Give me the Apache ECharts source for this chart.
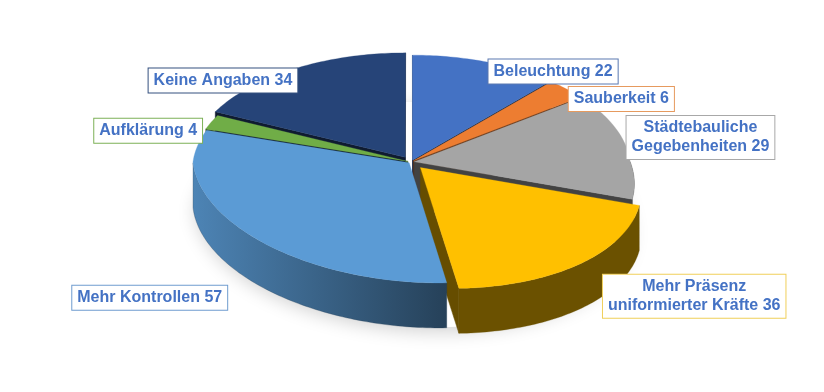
<!DOCTYPE html>
<html><head><meta charset="utf-8">
<script src="https://cdn.jsdelivr.net/npm/echarts@6/dist/echarts.min.js"></script>
<style>html,body{margin:0;padding:0;background:#fff}#c{width:824px;height:392px}</style>
</head><body><div id="c"></div>
<script>
// ---- data ----
const categories = ['Beleuchtung', 'Sauberkeit', 'Städtebauliche\nGegebenheiten', 'Mehr Präsenz\nuniformierter Kräfte', 'Mehr Kontrollen', 'Aufklärung', 'Keine Angaben'];
const values = [22, 6, 29, 36, 57, 4, 34];

// ---- styles ----
const topColors = ['#4472C4', '#ED7D31', '#A5A5A5', '#FFC000', '#5B9BD5', '#70AD47', '#264478'];
const borderColors = ['#5a78b0', '#e69a5e', '#a8a8a8', '#f0cf5a', '#6f9ccf', '#7db157', '#34507f'];
const explode = [0.02, 0.015, 0.015, 0.062, 0.012, 0.015, 0.05];
const labelOffsets = [[69, 8], [57, 9], [78, -8], [124, 39], [-100, 65], [-66, 8], [-78, 8]];

const CX = 411, CY = 162, RX = 216, K = 112, PERSP = 15, SHEAR = 0.25, DEPTH = 45;

function shade(hex, f) {
  const n = parseInt(hex.slice(1), 16);
  const r = Math.round(((n >> 16) & 255) * f), g = Math.round(((n >> 8) & 255) * f), b = Math.round((n & 255) * f);
  return 'rgb(' + r + ',' + g + ',' + b + ')';
}
function proj(u, w) {
  const s = 1 / (1 + w / PERSP);
  let x = CX + RX * u * s;
  if (w < 0) x += SHEAR * K * (-w) * s;
  return [x, CY - K * w * s];
}
function wallBright(phi) {
  const d = phi * 180 / Math.PI;
  if (d <= 180) return 0.42;
  return 0.42 + Math.min(1, (d - 180) / 90) * 0.43;
}

function renderItem(params, api) {
  const i = params.dataIndex;
  const total = values.reduce((a, b) => a + b, 0);
  let before = 0;
  for (let j = 0; j < i; j++) before += values[j];
  const v = api.value(0);
  const a0 = before / total * 2 * Math.PI;
  const a1 = (before + v) / total * 2 * Math.PI;
  const am = (a0 + a1) / 2;
  const ex = explode[i] * Math.sin(am), ey = explode[i] * Math.cos(am);
  const P = (phi, f) => proj(f * Math.sin(phi) + ex, f * Math.cos(phi) + ey);
  const arc = (b0, b1) => {
    const n = Math.max(2, Math.ceil((b1 - b0) / (Math.PI / 180)));
    const pts = [];
    for (let t = 0; t <= n; t++) pts.push(P(b0 + (b1 - b0) * t / n, 1));
    return pts;
  };
  const down = p => [p[0], p[1] + DEPTH];
  const children = [];
  const col = topColors[i];

  if (i === 0) {
    const pts = [];
    for (let t = 0; t <= 360; t += 2) {
      const ph = t * Math.PI / 180;
      pts.push(down(proj(Math.sin(ph), Math.cos(ph))));
    }
    children.push({ type: 'polygon', z2: 0, shape: { points: pts },
      style: { fill: '#ffffff', shadowBlur: 18, shadowColor: 'rgba(0,0,0,0.18)', shadowOffsetY: 5 } });
  }

  const A = P(0, 0);
  // radial faces
  const faces = [[a0, a0 + (a1 - a0) / 2], [a1, a1 - (a1 - a0) / 2]];
  faces.forEach(([edge, bodyAng]) => {
    const E = P(edge, 1);
    const B = P(bodyAng, 0.5);
    const dx = E[0] - A[0], dy = E[1] - A[1];
    const c1 = dx * (B[1] - A[1]) - dy * (B[0] - A[0]);
    const c2 = dx;
    if (c1 * c2 < 0) {
      children.push({ type: 'polygon', z2: 5, shape: { points: [A, E, down(E), down(A)] },
        style: { fill: shade(col, 0.4), stroke: shade(col, 0.4), lineWidth: 0.5 } });
    }
  });

  // outer wall
  const lo = Math.max(a0, Math.PI / 2), hi = Math.min(a1, 3 * Math.PI / 2);
  if (hi > lo) {
    const topPts = arc(lo, hi);
    const bot = topPts.map(down).reverse();
    const bl = wallBright(hi), br = wallBright(lo);
    children.push({ type: 'polygon', z2: 10 + Math.round((1 - Math.cos((lo + hi) / 2)) * 3), shape: { points: topPts.concat(bot) },
      style: { fill: new echarts.graphic.LinearGradient(0, 0, 1, 0, [
        { offset: 0, color: shade(col, bl) }, { offset: 1, color: shade(col, br) }]),
        stroke: shade(col, br), lineWidth: 0.3 } });
  }

  // top face
  children.push({ type: 'polygon', z2: 20, shape: { points: [A].concat(arc(a0, a1)) },
    style: { fill: col, stroke: col, lineWidth: 0.3 } });

  // label
  const anc = proj(Math.sin(am), Math.cos(am));
  const off = labelOffsets[i];
  children.push({ type: 'text', z2: 30, x: anc[0] + off[0], y: anc[1] + off[1],
    style: { text: api.value(2) + ' ' + v, fill: '#4472C4', fontSize: 16, fontWeight: 'bold',
      fontFamily: '"Liberation Sans", Arial, sans-serif', align: 'center', verticalAlign: 'middle',
      lineHeight: 19, backgroundColor: '#ffffff', borderColor: borderColors[i], borderWidth: 1,
      padding: [3, 5, 2, 5] } });

  return { type: 'group', children };
}

const chart = echarts.init(document.getElementById('c'), null, { renderer: 'canvas' });
chart.setOption({
  animation: false,
  series: [{
    type: 'custom', coordinateSystem: 'none', renderItem,
    data: values.map((v, i) => ({ name: categories[i], value: [v, i, categories[i]] }))
  }]
});
</script></body></html>
